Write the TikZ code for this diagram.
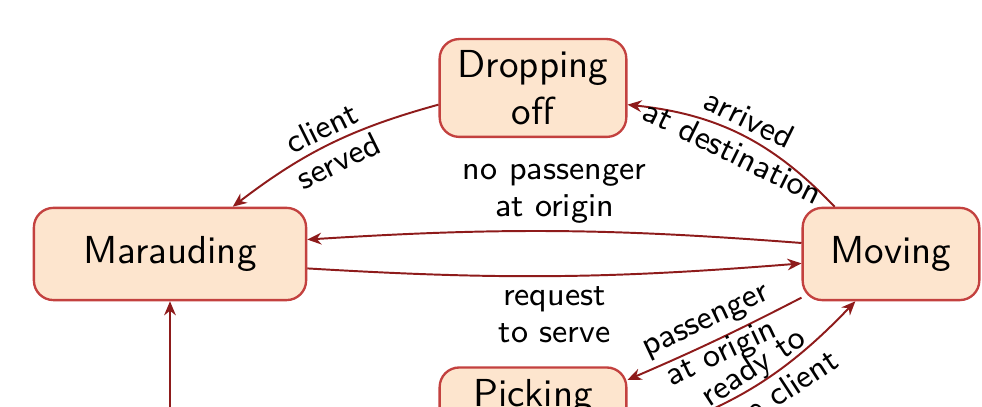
\documentclass[tikz,border=0pt]{standalone}
\usepackage{tikz}
\usetikzlibrary{arrows.meta}
\definecolor{statefill}{HTML}{FDE5CE}
\definecolor{stateline}{HTML}{C3413F}
\definecolor{arrowred}{HTML}{8E1B1B}
\begin{document}
\begin{tikzpicture}[
  state/.style={draw=stateline, fill=statefill, line width=0.6pt, rounded corners=5pt,
    align=center, inner ysep=3pt, minimum height=0.83cm, font=\sffamily},
  trans/.style={draw=arrowred, line width=0.5pt, -{Stealth[length=3.6pt,width=3pt]}},
  lbl/.style={font=\sffamily\fontsize{8.5}{9.5}\selectfont, align=center, text=black}
]
\useasboundingbox (0,0) rectangle (8.838,3.663);
% states
\node[state, minimum width=1.68cm, minimum height=0.87cm] (drop) at (4.797,2.871) {Dropping\\off};
\node[state, minimum width=2.45cm] (maraud) at (1.530,1.377) {Marauding};
\node[state, minimum width=1.59cm] (moving) at (8.019,1.377) {Moving};
\node[state, minimum width=1.68cm, minimum height=0.87cm] (pick) at (4.797,-0.117) {Picking\\up};
\coordinate (entry) at (1.530,-0.6);
% transitions
\draw[trans] (drop.190) to[bend right=11] node[lbl, sloped, midway] {client\\served} (maraud.37);
\draw[trans] (moving.140) to[bend right=20] node[lbl, sloped, midway] {arrived\\at destination} (drop.-10);
\draw[trans] (moving.173) to[bend right=4] node[lbl, above=-1.5pt, midway] {no passenger\\at origin} (maraud.6);
\draw[trans] (maraud.-6) to[bend right=4] node[lbl, below=-1pt, midway] {request\\to serve} (moving.186);
\draw[trans] (moving.206) to[bend left=2] node[lbl, sloped, midway] {passenger\\at origin} (pick.23);
\draw[trans] (pick.-12) to[bend right=15] node[lbl, sloped, pos=0.55] {ready to\\take client} (moving.233);
\draw[trans] (entry) -- (maraud.south);
\end{tikzpicture}
\end{document}
